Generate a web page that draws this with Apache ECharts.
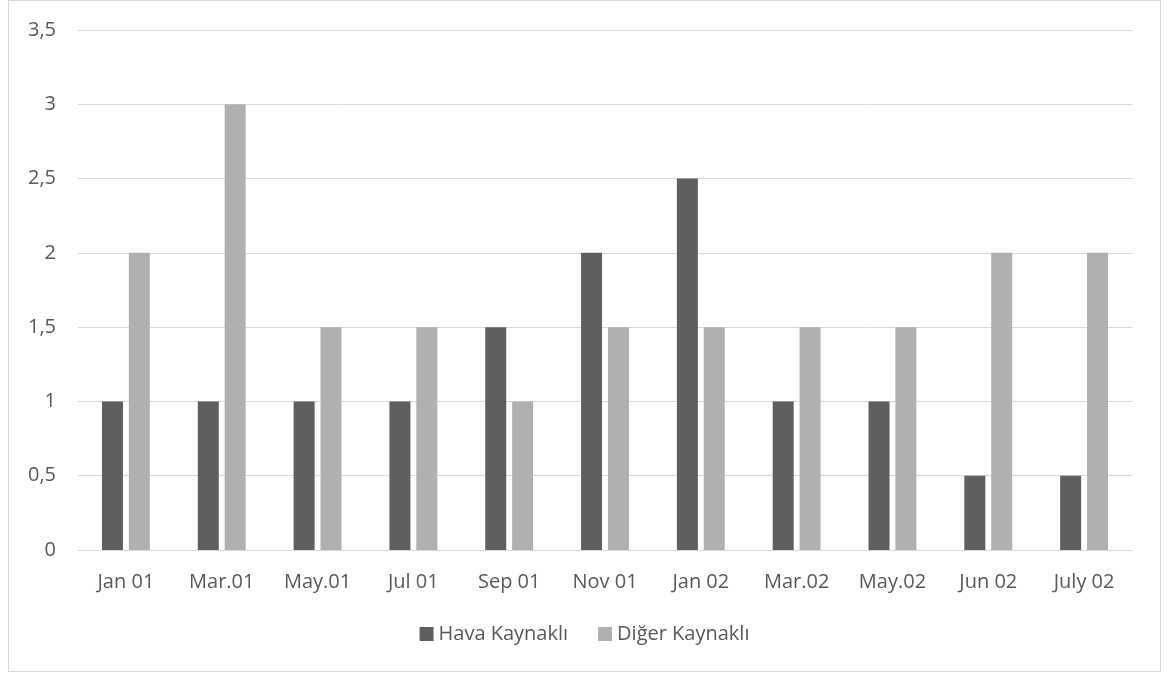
<!DOCTYPE html>
<html>
<head>
<meta charset="utf-8">
<script src="https://cdn.jsdelivr.net/npm/echarts@6/dist/echarts.min.js"></script>
<style>
  html, body { margin: 0; padding: 0; background: #fff; }
  #frame { position: absolute; left: 8px; top: 0px; width: 1151px; height: 670px; border: 1px solid #d9d9d9; }
  #chart { width: 100%; height: 100%; }
</style>
</head>
<body>
<div id="frame"><div id="chart"></div></div>
<script>
var months = ['Jan 01', 'Mar.01', 'May.01', 'Jul 01', 'Sep 01', 'Nov 01', 'Jan 02', 'Mar.02', 'May.02', 'Jun 02', 'July 02'];
var hava = [1, 1, 1, 1, 1.5, 2, 2.5, 1, 1, 0.5, 0.5];
var diger = [2, 3, 1.5, 1.5, 1, 1.5, 1.5, 1.5, 1.5, 2, 2];

var textColor = '#595959';
var fontFam = '"Open Sans", "Noto Sans", sans-serif';

var myChart = echarts.init(document.getElementById('chart'));
var option = {
    animation: false,
    color: ['#5f5f5f', '#b0b0b0'],
    textStyle: { fontFamily: fontFam },
    legend: {
        data: ['Hava Kaynaklı', 'Diğer Kaynaklı'],
        top: 618,
        left: 'center',
        icon: 'rect',
        itemWidth: 14,
        itemHeight: 14,
        itemGap: 30,
        textStyle: { fontSize: 20, color: textColor, fontFamily: fontFam }
    },
    grid: {
        left: 69,
        right: 28,
        top: 29,
        bottom: 121
    },
    xAxis: {
        type: 'category',
        data: months,
        axisTick: { show: false },
        axisLine: { lineStyle: { color: '#d9d9d9', width: 1 } },
        axisLabel: { color: textColor, fontSize: 20, margin: 22, fontFamily: fontFam }
    },
    yAxis: {
        type: 'value',
        min: 0,
        max: 3.5,
        interval: 0.5,
        axisLine: { show: false },
        axisTick: { show: false },
        splitLine: { lineStyle: { color: '#d9d9d9', width: 1 } },
        axisLabel: {
            color: textColor,
            fontSize: 20,
            margin: 22,
            fontFamily: fontFam,
            formatter: function (v) { return String(v).replace('.', ','); }
        }
    },
    series: [
        {
            name: 'Hava Kaynaklı',
            type: 'bar',
            barWidth: 21,
            barGap: '28%',
            data: hava
        },
        {
            name: 'Diğer Kaynaklı',
            type: 'bar',
            barWidth: 21,
            data: diger
        }
    ]
};
myChart.setOption(option);
</script>
</body>
</html>
